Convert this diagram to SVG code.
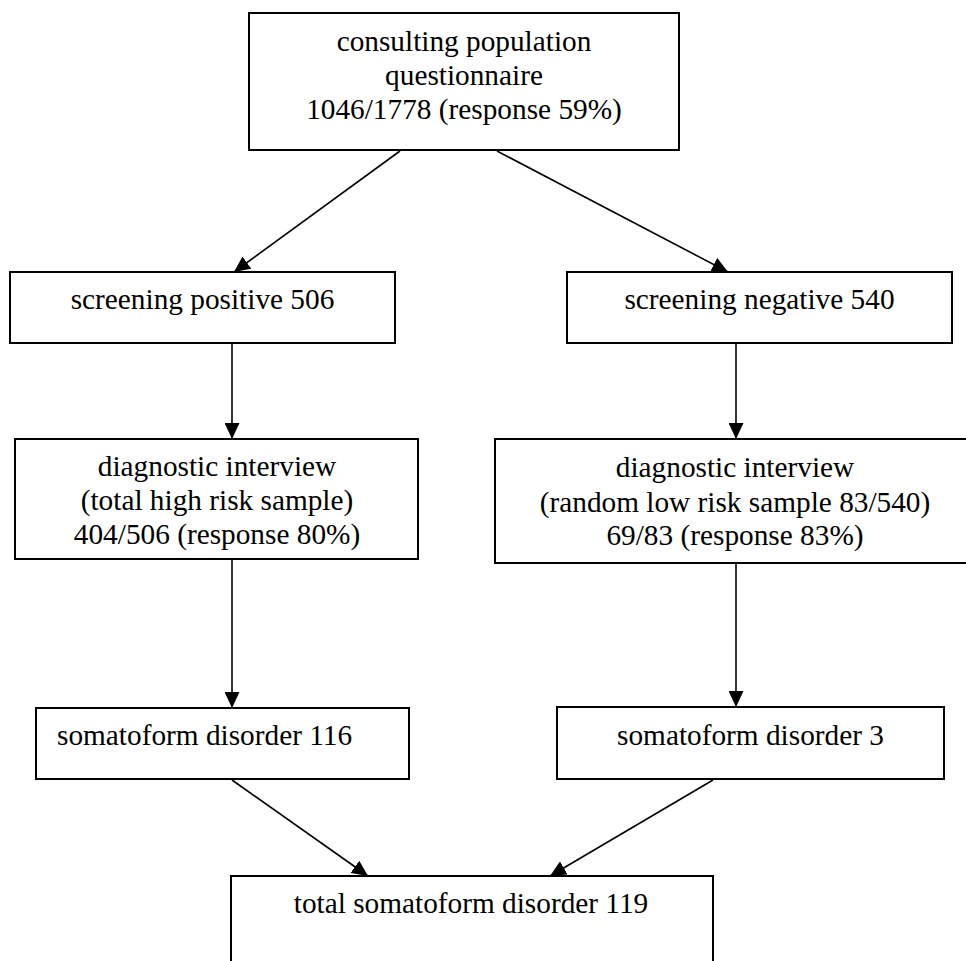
<svg xmlns="http://www.w3.org/2000/svg" width="966" height="961" viewBox="0 0 966 961">
<style>
.box{fill:#fff;stroke:#000;stroke-width:2}
text{font-family:'Liberation Serif','Times New Roman',Times,serif;font-size:29.3px;fill:#000}
.t{text-anchor:middle}
.c{stroke:#000;stroke-width:1.6;fill:none;marker-end:url(#ah)}
</style>
<defs>
<marker id="ah" markerUnits="userSpaceOnUse" markerWidth="16" markerHeight="15" refX="16" refY="7.5" orient="auto">
<path d="M0,0 L16,7.5 L0,15 Z" fill="#000"/>
</marker>
</defs>
<rect width="966" height="961" fill="#fff"/>
<g id="connectors">
<line class="c" x1="400" y1="151" x2="234" y2="272"/>
<line class="c" x1="497" y1="151" x2="728" y2="272"/>
<line class="c" x1="232" y1="343" x2="232" y2="439"/>
<line class="c" x1="736" y1="343" x2="736" y2="439"/>
<line class="c" x1="232" y1="560" x2="232" y2="708"/>
<line class="c" x1="736" y1="564" x2="736" y2="707"/>
<line class="c" x1="232" y1="780" x2="368" y2="876"/>
<line class="c" x1="713" y1="780" x2="550" y2="876"/>
</g>
<g id="n-consulting">
<rect class="box" x="249" y="13" width="430" height="137"/>
<text class="t" x="464" y="50.5">consulting population</text>
<text class="t" x="464" y="84.5">questionnaire</text>
<text class="t" x="464" y="119">1046/1778 (response 59%)</text>
</g>
<g id="n-screen-pos">
<rect class="box" x="10" y="272" width="385" height="71"/>
<text class="t" x="202.5" y="309">screening positive 506</text>
</g>
<g id="n-screen-neg">
<rect class="box" x="567" y="272" width="385" height="71"/>
<text class="t" x="759.5" y="309">screening negative 540</text>
</g>
<g id="n-diag-high">
<rect class="box" x="15" y="439" width="403" height="120"/>
<text class="t" x="217" y="476">diagnostic interview</text>
<text class="t" x="217" y="510">(total high risk sample)</text>
<text class="t" x="217" y="544">404/506 (response 80%)</text>
</g>
<g id="n-diag-low">
<rect class="box" x="495" y="439" width="490" height="124"/>
<text class="t" x="735" y="477">diagnostic interview</text>
<text class="t" x="735" y="511.5">(random low risk sample 83/540)</text>
<text class="t" x="735" y="545">69/83 (response 83%)</text>
</g>
<g id="n-somato-116">
<rect class="box" x="36" y="708" width="373" height="71"/>
<text x="57" y="745">somatoform disorder 116</text>
</g>
<g id="n-somato-3">
<rect class="box" x="557" y="707" width="387" height="72"/>
<text class="t" x="750.5" y="745">somatoform disorder 3</text>
</g>
<g id="n-total">
<rect class="box" x="231" y="876" width="482" height="110"/>
<text class="t" x="471" y="913">total somatoform disorder 119</text>
</g>
</svg>
